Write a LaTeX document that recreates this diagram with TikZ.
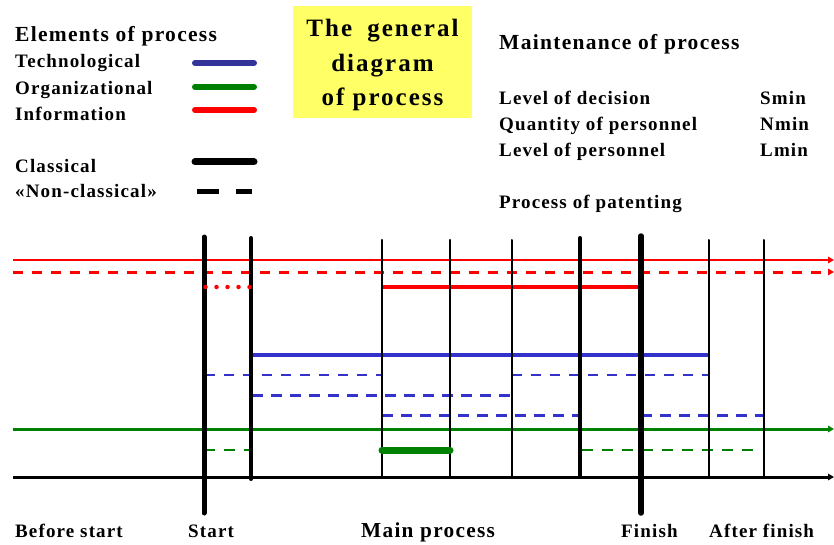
\documentclass[tikz,border=0pt]{standalone}
\usepackage{fontspec}
\setmainfont{Liberation Serif}[LetterSpace=6]
\usetikzlibrary{arrows.meta}
\definecolor{tred}{RGB}{255,0,0}
\definecolor{tgreen}{RGB}{0,128,0}
\definecolor{tblue}{RGB}{51,51,204}
\definecolor{tblueL}{RGB}{51,51,153}
\definecolor{tyellow}{RGB}{255,255,102}
\begin{document}
\begin{tikzpicture}[x=1pt,y=-1pt,
  txt/.style={anchor=base west,inner sep=0pt,font=\fontsize{19}{22}\selectfont\bfseries},
  headtxt/.style={anchor=base west,inner sep=0pt,font=\fontsize{21.5}{25}\selectfont\bfseries},
  bigtxt/.style={anchor=base west,inner sep=0pt,font=\fontsize{21.3}{25}\selectfont\bfseries},
  legbar/.style={line width=6pt,line cap=round},
  arr/.style={-{Triangle[length=6pt,width=6.5pt]}},
  vline/.style={line width=#1,line cap=round,black},
  reddash/.style={tred,line width=3pt,dash pattern=on 10pt off 9pt},
  bluedashA/.style={tblue,line width=2pt,dash pattern=on 10pt off 9pt},
  bluedashB/.style={tblue,line width=3pt,dash pattern=on 11pt off 8pt},
  greendash/.style={tgreen,line width=2pt,dash pattern=on 11pt off 9pt},
  reddots/.style={tred,line width=4.5pt,line cap=round,dash pattern=on 0pt off 11pt},
]
\useasboundingbox (0,0) rectangle (834,545);

% legend
\node[headtxt] (elem) at (15,42) {Elements of process};
\node[txt] (tech) at (15,68) {Technological};
\node[txt] (org) at (15,95) {Organizational};
\node[txt] (info) at (15,121) {Information};
\node[txt] (clas) at (15,173) {Classical};
\node[txt] (ncl) at (15,198) {«Non-classical»};
\draw[legbar,tblueL] (195,63) -- (254,63);
\draw[legbar,tgreen] (195,87) -- (254,87);
\draw[legbar,tred] (195,110) -- (254,110);
\draw[line width=7pt,line cap=round] (195,162) -- (254,162);
\draw[line width=5pt,dash pattern=on 22pt off 17pt] (197,192) -- (252,192);

% title box
\node[fill=tyellow,minimum width=179pt,minimum height=112pt,inner sep=0pt] (tbox) at (382.5,62) {};
\node[inner sep=0pt,align=center,font=\fontsize{25}{34.5}\selectfont\bfseries\addfontfeatures{LetterSpace=8}] (title) at (382.5,65)
  {The\hspace{7pt} general\\diagram\\of process};

% maintenance block
\node[headtxt] (maint) at (499,50) {Maintenance of process};
\node[txt] (lod) at (499,105) {Level of decision};
\node[txt] (qop) at (499,131) {Quantity of personnel};
\node[txt] (lop) at (499,157) {Level of personnel};
\node[txt] (smin) at (760,105) {Smin};
\node[txt] (nmin) at (760,131) {Nmin};
\node[txt] (lmin) at (760,157) {Lmin};
\node[txt] (pat) at (499,209) {Process of patenting};

% long horizontal lanes
\draw[tred,line width=2pt,arr] (13,260) -- (834,260);
\draw[reddash,arr] (13,272) -- (834,272);
\draw[tgreen,line width=3pt,arr] (13,429) -- (834,429);
\draw[black,line width=3pt,arr] (13,477) -- (834,477);

% partial lanes
\draw[tred,line width=4pt] (382,287) -- (641,287);
\draw[tblue,line width=4.5pt] (251,355) -- (709,355);
\draw[bluedashA] (205,375) -- (382,375);
\draw[bluedashA] (512,375) -- (709,375);
\draw[bluedashB] (252,395) -- (512,395);
\draw[bluedashB] (382,415) -- (580,415);
\draw[bluedashB] (641,415) -- (764,415);
\draw[greendash] (204,450) -- (251,450);
\draw[greendash] (582,450) -- (762,450);

% stage boundaries
\draw[vline=5pt] (204,237) -- (204,513);
\draw[vline=4pt] (251,238) -- (251,479);
\draw[vline=2.5pt] (382,240) -- (382,477);
\draw[vline=2.5pt] (450,240) -- (450,477);
\draw[vline=2pt] (512,240) -- (512,477);
\draw[vline=4pt] (580,238) -- (580,477);
\draw[vline=5.5pt] (641,236) -- (641,513);
\draw[vline=2pt] (709,240) -- (709,477);
\draw[vline=2pt] (764,240) -- (764,477);

% dotted information lane and short organizational stage on top
\draw[reddots] (205.5,287) -- (249.6,287);
\draw[tgreen,line width=7pt,line cap=round] (382,450) -- (450,450);

% stage names
\node[txt] (bs) at (15,537) {Before start};
\node[txt] (st) at (188,537) {Start};
\node[bigtxt] (mp) at (361,537) {Main process};
\node[txt] (fi) at (621,537) {Finish};
\node[txt] (af) at (709,537) {After finish};
\end{tikzpicture}
\end{document}
